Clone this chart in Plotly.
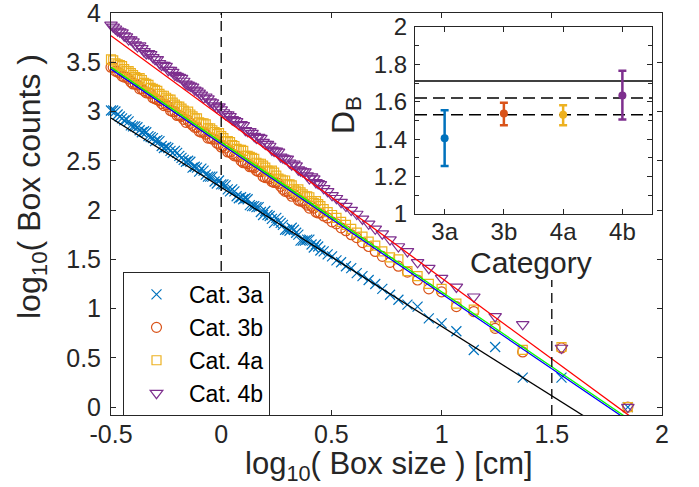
import plotly.graph_objects as go

# ---------------- data ----------------
# log10 box size values: discrete large boxes, then the dense small-box band
log_box_size = [1.845, 1.544, 1.368, 1.243, 1.146, 1.067, 1.000, 0.942, 0.891, 0.845,
                0.804, 0.766, 0.731, 0.699, 0.669, 0.641, 0.615, 0.590, 0.566, 0.544,
                0.523, 0.503, 0.483, 0.465,
                0.44, 0.42, 0.40, 0.38, 0.36, 0.34, 0.32, 0.30, 0.28, 0.26, 0.24, 0.22,
                0.20, 0.18, 0.16, 0.14, 0.12, 0.10, 0.08, 0.06, 0.04, 0.02, 0.00, -0.02,
                -0.04, -0.06, -0.08, -0.10, -0.12, -0.14, -0.16, -0.18, -0.20, -0.22,
                -0.24, -0.26, -0.28, -0.30, -0.32, -0.34, -0.36, -0.38, -0.40, -0.42,
                -0.44, -0.46, -0.48, -0.50,
                0.45, 0.43, 0.41, 0.39, 0.37, 0.35, 0.33, 0.31, 0.29, 0.27, 0.25, 0.23,
                0.21, 0.19, 0.17, 0.15, 0.13, 0.11, 0.09, 0.07, 0.05, 0.03, 0.01, -0.01,
                -0.03, -0.05, -0.07, -0.09, -0.11, -0.13, -0.15, -0.17, -0.19, -0.21,
                -0.23, -0.25, -0.27, -0.29, -0.31, -0.33, -0.35, -0.37, -0.39, -0.41,
                -0.43, -0.45, -0.47, -0.49]

counts_3a = [0.00, 0.30, 0.30, 0.61, 0.58, 0.77, 0.85, 0.90, 1.02, 1.04, 1.09, 1.14,
             1.20, 1.25, 1.29, 1.33, 1.36, 1.41, 1.43, 1.47, 1.49, 1.53, 1.55, 1.58,
             1.63, 1.62, 1.70, 1.69, 1.69, 1.77, 1.82, 1.80, 1.85, 1.89, 1.87, 1.94,
             1.99, 1.98, 2.03, 2.04, 2.11, 2.11, 2.12, 2.19, 2.19, 2.25, 2.26, 2.27,
             2.34, 2.34, 2.40, 2.39, 2.44, 2.49, 2.49, 2.53, 2.58, 2.58, 2.63, 2.63,
             2.70, 2.70, 2.74, 2.79, 2.79, 2.84, 2.85, 2.90, 2.91, 2.95, 3.00, 3.01,
             1.59, 1.65, 1.65, 1.70, 1.69, 1.75, 1.80, 1.79, 1.80, 1.87, 1.92, 1.91,
             1.95, 1.95, 2.03, 2.04, 2.05, 2.12, 2.13, 2.14, 2.21, 2.21, 2.26, 2.30,
             2.29, 2.34, 2.36, 2.42, 2.43, 2.43, 2.50, 2.51, 2.55, 2.60, 2.60, 2.64,
             2.65, 2.71, 2.73, 2.75, 2.80, 2.81, 2.85, 2.86, 2.92, 2.93, 2.97, 3.01]
counts_3b = [0.00, 0.60, 0.56, 0.80, 0.97, 1.02, 1.17, 1.20, 1.29, 1.37, 1.43, 1.47,
             1.53, 1.58, 1.63, 1.67, 1.72, 1.75, 1.79, 1.82, 1.86, 1.88, 1.92, 1.94,
             1.97, 2.02, 2.02, 2.07, 2.09, 2.14, 2.14, 2.19, 2.21, 2.27, 2.28, 2.32,
             2.33, 2.39, 2.40, 2.44, 2.47, 2.48, 2.54, 2.55, 2.59, 2.63, 2.64, 2.68,
             2.72, 2.73, 2.79, 2.80, 2.84, 2.88, 2.89, 2.95, 2.96, 3.00, 3.05, 3.06,
             3.11, 3.13, 3.18, 3.19, 3.23, 3.27, 3.28, 3.33, 3.35, 3.39, 3.41, 3.45,
             1.97, 1.98, 2.04, 2.05, 2.09, 2.10, 2.16, 2.17, 2.19, 2.24, 2.28, 2.29,
             2.33, 2.34, 2.39, 2.43, 2.44, 2.48, 2.50, 2.55, 2.57, 2.59, 2.65, 2.67,
             2.72, 2.73, 2.77, 2.79, 2.84, 2.86, 2.91, 2.92, 2.96, 3.00, 3.01, 3.07,
             3.08, 3.12, 3.14, 3.19, 3.21, 3.23, 3.28, 3.30, 3.35, 3.36, 3.40, 3.45]
counts_4a = [0.00, 0.61, 0.58, 0.82, 0.99, 1.05, 1.20, 1.25, 1.33, 1.38, 1.50, 1.52,
             1.58, 1.64, 1.68, 1.73, 1.77, 1.81, 1.85, 1.88, 1.92, 1.95, 1.98, 2.01,
             2.06, 2.07, 2.13, 2.14, 2.18, 2.19, 2.25, 2.26, 2.30, 2.32, 2.38, 2.39,
             2.43, 2.47, 2.48, 2.53, 2.55, 2.60, 2.61, 2.65, 2.69, 2.70, 2.75, 2.77,
             2.81, 2.83, 2.88, 2.89, 2.93, 2.97, 2.98, 3.03, 3.05, 3.09, 3.12, 3.16,
             3.18, 3.22, 3.24, 3.28, 3.32, 3.33, 3.37, 3.41, 3.43, 3.47, 3.49, 3.53,
             2.04, 2.09, 2.09, 2.14, 2.16, 2.21, 2.21, 2.26, 2.30, 2.31, 2.35, 2.40,
             2.40, 2.45, 2.47, 2.52, 2.54, 2.55, 2.61, 2.62, 2.66, 2.70, 2.73, 2.78,
             2.79, 2.83, 2.87, 2.88, 2.93, 2.95, 3.00, 3.01, 3.05, 3.07, 3.12, 3.14,
             3.16, 3.21, 3.23, 3.27, 3.29, 3.34, 3.35, 3.39, 3.41, 3.46, 3.48, 3.52]
counts_4b = [0.00, 0.60, 0.84, 0.92, 1.12, 1.22, 1.31, 1.41, 1.47, 1.58, 1.63, 1.70,
             1.76, 1.81, 1.86, 1.91, 1.96, 2.00, 2.04, 2.08, 2.12, 2.15, 2.19, 2.22,
             2.27, 2.32, 2.32, 2.39, 2.40, 2.45, 2.46, 2.52, 2.53, 2.59, 2.60, 2.65,
             2.67, 2.73, 2.73, 2.78, 2.80, 2.86, 2.87, 2.91, 2.95, 2.97, 3.02, 3.04,
             3.09, 3.13, 3.14, 3.19, 3.22, 3.26, 3.28, 3.34, 3.36, 3.40, 3.42, 3.47,
             3.49, 3.53, 3.58, 3.59, 3.64, 3.66, 3.71, 3.73, 3.77, 3.81, 3.84, 3.88,
             2.26, 2.28, 2.34, 2.35, 2.39, 2.41, 2.47, 2.48, 2.52, 2.54, 2.60, 2.61,
             2.67, 2.69, 2.74, 2.75, 2.80, 2.81, 2.87, 2.90, 2.92, 2.97, 2.99, 3.05,
             3.06, 3.10, 3.15, 3.17, 3.21, 3.25, 3.27, 3.31, 3.35, 3.37, 3.42, 3.46,
             3.47, 3.53, 3.55, 3.59, 3.61, 3.67, 3.68, 3.73, 3.76, 3.80, 3.82, 3.86]

series_names = ["Cat. 3a", "Cat. 3b", "Cat. 4a", "Cat. 4b"]
fit_intercept = [2.23, 2.67, 2.69, 2.95]
fit_slope = [-1.41, -1.52, -1.52, -1.64]
fit_x_range = [-0.5, 1.9]

categories = ["3a", "3b", "4a", "4b"]
db_mean = [1.405, 1.537, 1.531, 1.634]
db_err_plus = [0.150, 0.058, 0.050, 0.132]
db_err_minus = [0.148, 0.063, 0.057, 0.128]
ref_solid = 1.711
ref_dashed = [1.620, 1.531]

x_ticks_main = [-0.5, 0, 0.5, 1, 1.5, 2]
x_ticktext_main = ["-0.5", "0", "0.5", "1", "1.5", "2"]
y_ticks_main = [0, 0.5, 1, 1.5, 2, 2.5, 3, 3.5, 4]
y_ticktext_main = ["0", "0.5", "1", "1.5", "2", "2.5", "3", "3.5", "4"]
y_ticks_inset = [1, 1.2, 1.4, 1.6, 1.8, 2]
y_ticktext_inset = ["1", "1.2", "1.4", "1.6", "1.8", "2"]
dashed_x = [0.0, 1.5]
dashed_top = [4.0, 1.29]

x_title = "log<sub>10</sub>( Box size ) [cm]"
y_title = "log<sub>10</sub>( Box counts )"
inset_x_title = "Category"
inset_y_title = "D<sub>B</sub>"

# ---------------- style ----------------
FONT = "Liberation Sans, Arial, Helvetica, sans-serif"
INK = "#262626"
mcolors = ["#0072BD", "#D95319", "#EDB120", "#7E2F8E"]
msymbols = ["x-thin-open", "circle-open", "square-open", "triangle-down-open"]
msizes = [10, 10, 9, 11]
lcolors = ["#000000", "#0000FF", "#00FF00", "#FF0000"]

fig = go.Figure()

all_counts = [counts_3a, counts_3b, counts_4a, counts_4b]
for name, ys, c, s, sz in zip(series_names, all_counts, mcolors, msymbols, msizes):
    fig.add_trace(go.Scatter(
        x=log_box_size, y=ys, mode="markers", name=name, cliponaxis=False,
        marker=dict(symbol=s, size=sz, color=c, line=dict(color=c, width=1.2)),
        xaxis="x", yaxis="y"))

for b0, b1, c in zip(fit_intercept, fit_slope, lcolors):
    fig.add_trace(go.Scatter(
        x=fit_x_range, y=[b0 + b1 * fit_x_range[0], b0 + b1 * fit_x_range[1]],
        mode="lines", line=dict(color=c, width=1.3), showlegend=False,
        hoverinfo="skip", xaxis="x", yaxis="y"))

for xd, yt in zip(dashed_x, dashed_top):
    fig.add_shape(type="line", xref="x", yref="y", x0=xd, x1=xd, y0=-0.08, y1=yt,
                  line=dict(color="#000000", width=1.3, dash="10px,6px"))

# ---------------- inset ----------------
fig.add_trace(go.Scatter(x=[0.5, 4.5], y=[ref_solid, ref_solid], mode="lines",
                         line=dict(color="#000000", width=1.6), showlegend=False,
                         xaxis="x2", yaxis="y2", hoverinfo="skip"))
for v in ref_dashed:
    fig.add_trace(go.Scatter(x=[0.5, 4.5], y=[v, v], mode="lines",
                             line=dict(color="#000000", width=1.6, dash="12px,6px"),
                             showlegend=False, xaxis="x2", yaxis="y2", hoverinfo="skip"))
for i, cat in enumerate(categories):
    fig.add_trace(go.Scatter(
        x=[i + 1], y=[db_mean[i]], mode="markers", showlegend=False,
        marker=dict(symbol="circle", size=8, color=mcolors[i]),
        error_y=dict(type="data", symmetric=False, array=[db_err_plus[i]],
                     arrayminus=[db_err_minus[i]], color=mcolors[i], thickness=2.5, width=4),
        xaxis="x2", yaxis="y2"))

W, H = 699, 487
L, R, T, B = 111, 37, 13, 72
pw, ph = W - L - R, H - T - B
inset_x = [(415 - L) / pw, (652 - L) / pw]
inset_y = [(H - B - 214) / ph, (H - B - 27) / ph]


def px(xp):  # page x -> paper
    return (xp - L) / pw


def py(yp):  # page y -> paper
    return (H - B - yp) / ph


def ax(size, **kw):
    d = dict(showline=True, linecolor=INK, linewidth=1, mirror="ticks",
             ticks="inside", tickcolor=INK, ticklen=5, showgrid=False,
             zeroline=False, automargin=False, ticklabeloverflow="allow",
             tickfont=dict(family=FONT, size=size, color=INK))
    d.update(kw)
    return d


annotations = [
    dict(text=x_title, x=px(389), y=py(466), xref="paper", yref="paper",
         xanchor="center", yanchor="middle", showarrow=False,
         font=dict(family=FONT, size=31, color=INK)),
    dict(text=y_title, x=px(31), y=py(187), xref="paper", yref="paper",
         xanchor="center", yanchor="middle", showarrow=False, textangle=-90,
         font=dict(family=FONT, size=32, color=INK)),
    dict(text=inset_x_title, x=px(531), y=py(262), xref="paper", yref="paper",
         xanchor="center", yanchor="middle", showarrow=False,
         font=dict(family=FONT, size=30, color=INK)),
    dict(text=inset_y_title, x=px(346), y=py(115), xref="paper", yref="paper",
         xanchor="center", yanchor="middle", showarrow=False, textangle=-90,
         font=dict(family=FONT, size=32, color=INK)),
]

fig.update_layout(
    width=W, height=H,
    margin=dict(l=L, r=R, t=T, b=B, autoexpand=False),
    paper_bgcolor="white", plot_bgcolor="white",
    font=dict(family=FONT, color=INK),
    xaxis=ax(25, range=[-0.5, 2], tickvals=x_ticks_main, ticktext=x_ticktext_main,
             ticklabelstandoff=-3),
    yaxis=ax(25, range=[-0.08, 4], tickvals=y_ticks_main, ticktext=y_ticktext_main,
             ticklabelstandoff=4),
    xaxis2=ax(24, domain=inset_x, anchor="y2", range=[0.5, 4.5], tickvals=[1, 2, 3, 4],
              ticktext=categories, ticklabelstandoff=-4),
    yaxis2=ax(24, domain=inset_y, anchor="x2", range=[1, 2],
              tickvals=y_ticks_inset, ticktext=y_ticktext_inset, ticklabelstandoff=2,
              minor=dict(dtick=0.1, ticks="inside", ticklen=4, tickcolor=INK)),
    legend=dict(x=px(123), y=py(272), xanchor="left", yanchor="top",
                bgcolor="white", bordercolor=INK, borderwidth=1,
                font=dict(family=FONT, size=23, color="#000000"),
                itemwidth=55, tracegroupgap=0),
    annotations=annotations,
    showlegend=True,
)

fig.write_html("out.html", config={"displayModeBar": False},
               post_script="document.body.style.margin='0px';")
